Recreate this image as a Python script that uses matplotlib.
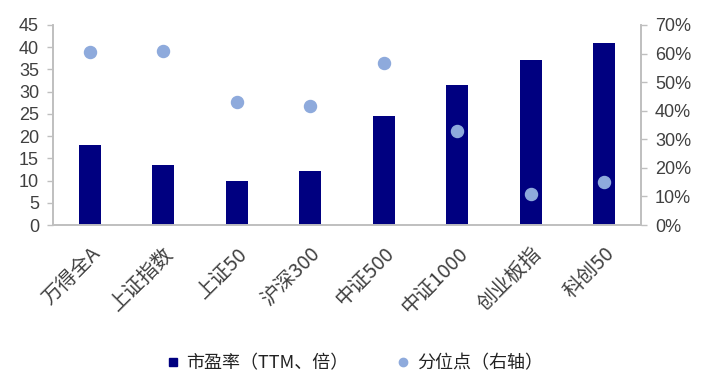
import matplotlib.pyplot as plt
import numpy as np
from matplotlib.lines import Line2D
from matplotlib.ticker import PercentFormatter

plt.rcParams['font.family'] = ['Liberation Sans', 'Noto Sans CJK SC', 'DejaVu Sans']

categories = ['万得全A', '上证指数', '上证50', '沪深300', '中证500', '中证1000', '创业板指', '科创50']
pe_ttm = [18.0, 13.5, 9.9, 12.2, 24.5, 31.4, 37.2, 41.0]
percentile = [60.4, 60.9, 43.2, 41.6, 56.8, 33.0, 10.9, 14.9]

bar_color = '#000080'
dot_color = '#8EAADC'
axis_grey = '#BFBFBF'
text_grey = '#404040'
cjk = ['Noto Sans CJK SC', 'DejaVu Sans']

fig = plt.figure(figsize=(7.11, 3.81), dpi=100)
ax = fig.add_axes([0.0745, 0.4094, 0.827, 0.525])
ax2 = ax.twinx()

x = np.arange(len(categories))
ax.bar(x, pe_ttm, width=0.3, color=bar_color, zorder=2)
ax2.scatter(x, percentile, s=75, color=dot_color, zorder=3)

ax.set_xlim(-0.5, len(categories) - 0.5)
ax.set_ylim(0, 45)
ax.set_yticks(range(0, 46, 5))
ax2.set_ylim(0, 70)
ax2.set_yticks(range(0, 71, 10))
ax2.yaxis.set_major_formatter(PercentFormatter(decimals=0))

for a in (ax, ax2):
    a.spines['top'].set_visible(False)
    for s in ('left', 'right', 'bottom'):
        a.spines[s].set_color(axis_grey)
        a.spines[s].set_linewidth(1.2)
    a.tick_params(axis='y', colors=axis_grey, labelcolor=text_grey, labelsize=13,
                  length=4, width=1, pad=6)

ax.tick_params(axis='x', length=0, labelcolor=text_grey, pad=13)
ax.set_xticks(x)
ax.set_xticklabels(categories, rotation=45, ha='right', rotation_mode='anchor',
                   fontsize=14.5, family=cjk)

ax.set_zorder(ax2.get_zorder() - 1)
ax.patch.set_visible(False)

handles = [Line2D([], [], ls='none', marker='s', ms=5.5, color=bar_color),
           Line2D([], [], ls='none', marker='o', ms=6, color=dot_color)]
fig.legend(handles, ['市盈率（TTM、倍）', '分位点（右轴）'], loc='center',
           bbox_to_anchor=(0.5, 0.047), ncol=2, frameon=False, handlelength=0.5,
           handletextpad=0.5, columnspacing=2.8,
           prop={'family': cjk, 'size': 13}, labelcolor='#222222')

fig.savefig('out.png', dpi=100)
